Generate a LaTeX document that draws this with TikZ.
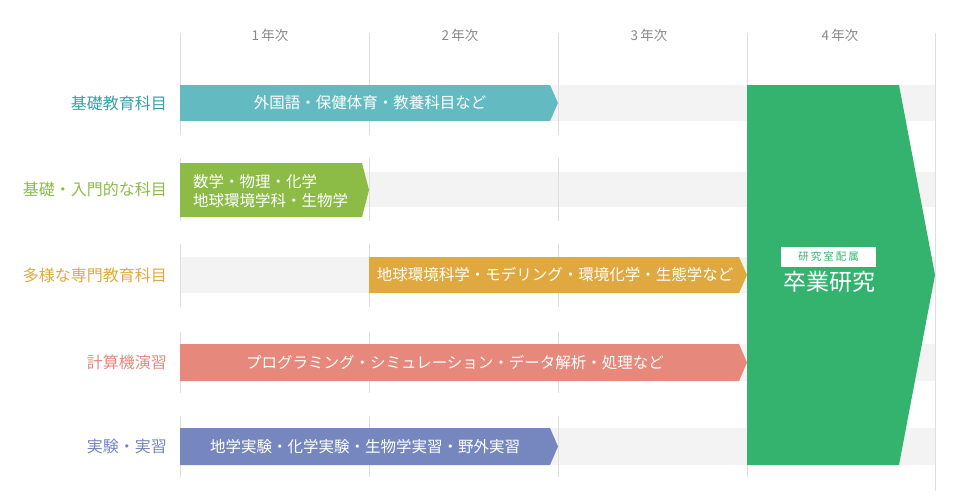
\documentclass[tikz,border=0pt]{standalone}
\usepackage{fontspec}
\setmainfont{Noto Sans CJK JP}
\definecolor{bandgrey}{HTML}{F3F3F3}
\definecolor{gridgrey}{HTML}{DEDEDE}
\definecolor{headgrey}{HTML}{888888}
\definecolor{cteal}{HTML}{63BBC1}
\definecolor{cteallab}{HTML}{35A0A7}
\definecolor{cgreen}{HTML}{8CBB46}
\definecolor{corange}{HTML}{E0A93F}
\definecolor{csalmon}{HTML}{E6887B}
\definecolor{cblue}{HTML}{7687C0}
\definecolor{cbig}{HTML}{34B36E}
\begin{document}
\begin{tikzpicture}[x=1pt,y=-1pt,
  band/.style={fill=bandgrey},
  gridline/.style={draw=gridgrey,line width=1pt},
  rowlab/.style={anchor=east,inner sep=0pt,font=\fontsize{16}{16}\selectfont},
  bartext/.style={text=white,inner sep=0pt,font=\fontsize{15.5}{18.5}\selectfont},
  head/.style={text=headgrey,inner sep=0pt,font=\fontsize{13.5}{13.5}\selectfont}]
\useasboundingbox (0,0) rectangle (960,498);
% grey bands
\fill[band] (180,85) rectangle (935,121);
\fill[band] (180,172) rectangle (935,207);
\fill[band] (180,257) rectangle (935,293);
\fill[band] (180,344) rectangle (935,381);
\fill[band] (180,428) rectangle (935,465);
% grid line segments
\foreach \x in {180.5,369.5,558.5,747.5}{
  \draw[gridline] (\x,33) -- (\x,135);
  \draw[gridline] (\x,158) -- (\x,221);
  \draw[gridline] (\x,244) -- (\x,307);
  \draw[gridline] (\x,332) -- (\x,393);
  \draw[gridline] (\x,416) -- (\x,477);
}
\draw[gridline] (935.5,33) -- (935.5,491);
% headers
\node[head] (h1) at (270,35) {1\,年次};
\node[head] (h2) at (460,35) {2\,年次};
\node[head] (h3) at (649,35) {3\,年次};
\node[head] (h4) at (840,35) {4\,年次};
% row labels
\node[rowlab,text=cteallab] (l1) at (167,103) {基礎教育科目};
\node[rowlab,text=cgreen] (l2) at (167,189.5) {基礎・入門的な科目};
\node[rowlab,text=corange] (l3) at (167,275) {多様な専門教育科目};
\node[rowlab,text=csalmon] (l4) at (167,362.5) {計算機演習};
\node[rowlab,text=cblue] (l5) at (167,446.5) {実験・実習};
% bars
\fill[cteal] (180,85) -- (550,85) -- (558,103) -- (550,121) -- (180,121) -- cycle;
\fill[cgreen] (180,163) -- (362,163) -- (369,190) -- (362,217) -- (180,217) -- cycle;
\fill[corange] (369,257) -- (739,257) -- (747,275) -- (739,293) -- (369,293) -- cycle;
\fill[csalmon] (180,344) -- (739,344) -- (747,362.5) -- (739,381) -- (180,381) -- cycle;
\fill[cblue] (180,428) -- (550,428) -- (558,446.5) -- (550,465) -- (180,465) -- cycle;
% bar texts
\node[bartext] (t1) at (370,103) {外国語・保健体育・教養科目など};
\node[bartext,anchor=west,align=left] (t2) at (193,191) {数学・物理・化学\\地球環境学科・生物学};
\node[bartext] (t3) at (555,275) {地球環境科学・モデリング・環境化学・生態学など};
\node[bartext] (t4) at (455,362.5) {プログラミング・シミュレーション・データ解析・処理など};
\node[bartext] (t5) at (365,446.5) {地学実験・化学実験・生物学実習・野外実習};
% big green arrow
\fill[cbig] (747,85) -- (899,85) -- (935,275) -- (899,465) -- (747,465) -- cycle;
\node[fill=white,minimum width=95pt,minimum height=20pt,inner sep=0pt,text=cbig,
  font=\fontsize{10.5}{11}\selectfont] (tag) at (828.5,257)
  {研\hspace{2pt}究\hspace{2pt}室\hspace{2pt}配\hspace{2pt}属};
\node[text=white,inner sep=0pt,font=\fontsize{23}{23}\selectfont] (main) at (829,281.5) {卒業研究};
\end{tikzpicture}
\end{document}
